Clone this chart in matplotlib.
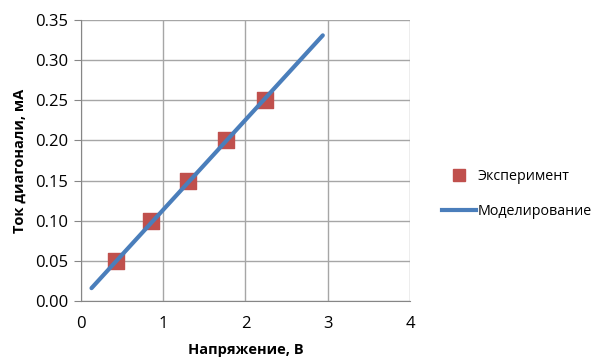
import matplotlib.pyplot as plt
from matplotlib.lines import Line2D

plt.rcParams['font.family'] = ['Open Sans', 'DejaVu Sans']

# measured points
u_exp = [0.43, 0.85, 1.30, 1.76, 2.24]
i_exp = [0.05, 0.10, 0.15, 0.20, 0.25]

# model line
u_mod = [0.13, 2.94]
i_mod = [0.016, 0.331]

fig = plt.figure(figsize=(6.03, 3.59), dpi=100)
ax = fig.add_axes([0.134, 0.1616, 0.546, 0.7824])

ax.plot(u_mod, i_mod, color='#4a7ebb', lw=3, solid_capstyle='round', zorder=3)
ax.scatter(u_exp, i_exp, marker='s', s=120, color='#c0504d', zorder=2)

ax.set_xlim(0, 4)
ax.set_ylim(0, 0.35)
ax.set_xticks([0, 1, 2, 3, 4])
ax.set_yticks([0, 0.05, 0.10, 0.15, 0.20, 0.25, 0.30, 0.35])
ax.set_yticklabels(['%.2f' % v for v in ax.get_yticks()])
ax.grid(color='#a6a6a6', lw=1)
ax.set_axisbelow(True)
for s in ['top', 'right']:
    ax.spines[s].set_visible(False)
ax.spines['left'].set_color('#868686')
ax.spines['bottom'].set_color('#868686')
ax.tick_params(axis='y', length=5, color='#868686', labelsize=12, pad=4)
ax.tick_params(axis='x', length=0, labelsize=12, pad=11)

ax.set_xlabel('Напряжение, В', fontsize=10.5, fontweight='bold', labelpad=8)
ax.set_ylabel('Ток диагонали, мА', fontsize=10.5, fontweight='bold', labelpad=6)

handles = [Line2D([], [], marker='s', ls='none', color='#c0504d', markersize=9),
           Line2D([], [], color='#4a7ebb', lw=3)]
fig.legend(handles, ['Эксперимент', 'Моделирование'], loc='center left',
           bbox_to_anchor=(0.733, 0.46), frameon=False, fontsize=10.3,
           handlelength=2.4, handletextpad=0.1, labelspacing=1.4,
           borderaxespad=0, borderpad=0)

fig.savefig('out.png', dpi=100)
